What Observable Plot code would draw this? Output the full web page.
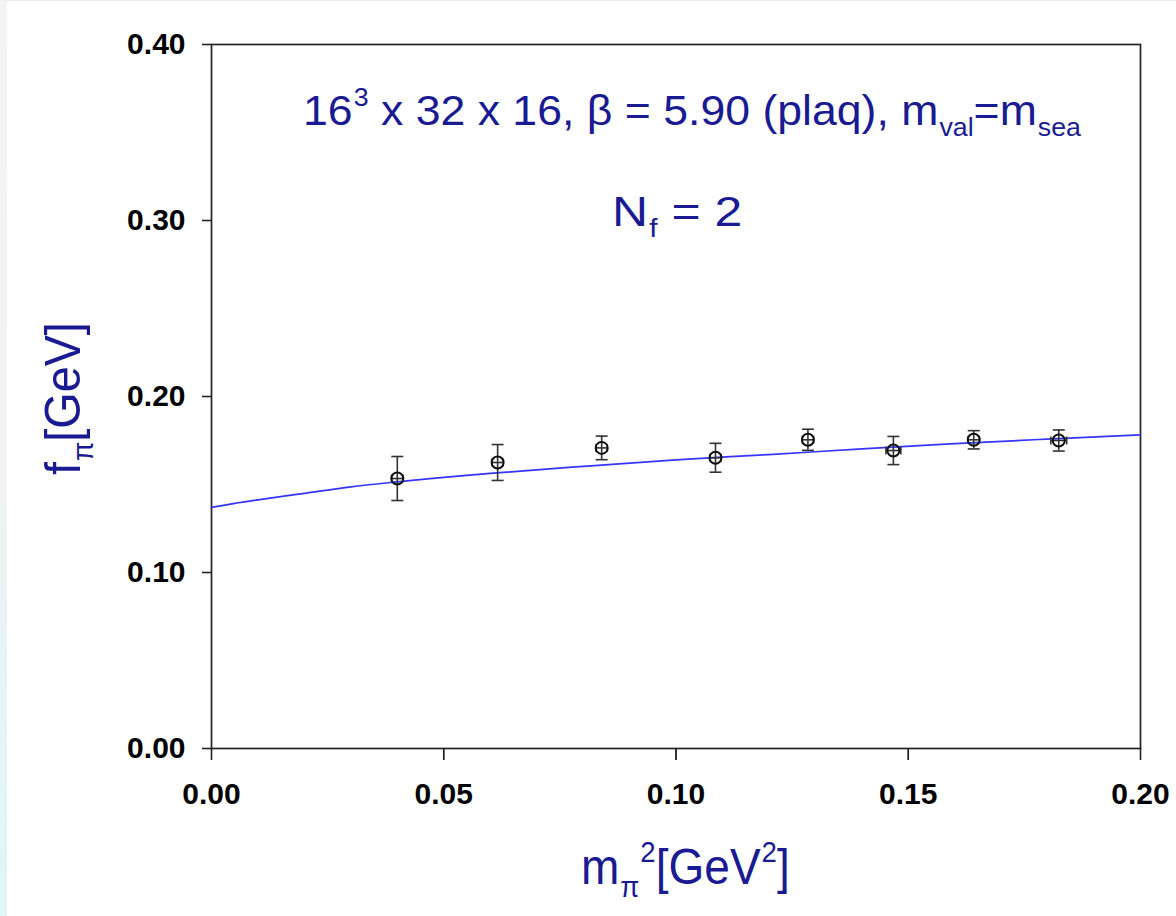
<!DOCTYPE html>
<html><head><meta charset="utf-8">
<script src="https://cdn.jsdelivr.net/npm/d3@7"></script>
<script src="https://cdn.jsdelivr.net/npm/@observablehq/plot@0.6"></script>
<style>
body{margin:0;background:#fff;}
#wrap{position:relative;width:1176px;height:916px;overflow:hidden;}
#strip{position:absolute;left:0;top:0;width:7px;height:916px;background:linear-gradient(#f4f4f4,#eef2f2 55%,#def7f7);}
#topline{position:absolute;left:0;top:0;width:1176px;height:1px;background:#eeeeee;}
#chart{position:absolute;left:0;top:0;}
</style></head><body><div id="wrap"><div id="strip"></div><div id="topline"></div><div id="chart"></div></div>
<script>
// measured data points: m_pi^2 [GeV^2], f_pi [GeV]
const mpi2    = [0.0400, 0.0616, 0.0840, 0.1085, 0.1284, 0.1468, 0.1641, 0.1824];
const fpi     = [0.1534, 0.1625, 0.1708, 0.1652, 0.1754, 0.1693, 0.1754, 0.1750];
const fpiErr  = [0.0125, 0.0102, 0.0067, 0.0082, 0.0060, 0.0080, 0.0052, 0.0060];
const mpi2Err = [0.0012, 0.0012, 0.0012, 0.0012, 0.0012, 0.0016, 0.0012, 0.0017];
// fit curve
const fitX = [0, 0.005, 0.01, 0.02, 0.03, 0.04, 0.06, 0.08, 0.10, 0.12, 0.14, 0.16, 0.18, 0.20];
const fitY = [0.1370, 0.1393, 0.1413, 0.1450, 0.1487, 0.1515, 0.1563, 0.1603, 0.1640, 0.1670, 0.1702, 0.1732, 0.1758, 0.1782];
const xTicks = [0, 0.05, 0.10, 0.15, 0.20];
const yTicks = [0, 0.10, 0.20, 0.30, 0.40];

const pts = mpi2.map((x, i) => ({x, y: fpi[i], ey: fpiErr[i], ex: mpi2Err[i]}));
const fit = fitX.map((x, i) => ({x, y: fitY[i]}));

const hcap = {draw(ctx, size){ const w = Math.sqrt(size / Math.PI); ctx.moveTo(-w, 0); ctx.lineTo(w, 0); }};
const vcap = {draw(ctx, size){ const w = Math.sqrt(size / Math.PI); ctx.moveTo(0, -w); ctx.lineTo(0, w); }};

const errColor = "#333";
const chart = Plot.plot({
  width: 1176, height: 916,
  marginLeft: 211, marginRight: 36, marginTop: 44, marginBottom: 168,
  style: {background: "transparent", fontFamily: "'Liberation Sans', Arial, sans-serif"},
  x: {domain: [0, 0.2]},
  y: {domain: [0, 0.4]},
  marks: [
    Plot.axisY(yTicks, {tickFormat: d3.format(".2f"), tickSize: 9, tickPadding: 17, fontSize: 30, fontWeight: "bold", fill: "#000", stroke: null, label: null}),
    Plot.axisY(yTicks, {text: null, tickSize: 9, stroke: "#222", strokeWidth: 1.6, label: null}),
    Plot.axisX(xTicks, {tickFormat: d3.format(".2f"), tickSize: 12, tickPadding: 22, fontSize: 30, fontWeight: "bold", fill: "#000", label: null}),
    Plot.axisX(xTicks, {text: null, tickSize: 12, stroke: "#222", strokeWidth: 1.6, label: null}),
    Plot.frame({stroke: "#222", strokeWidth: 1.7}),
    Plot.line(fit, {x: "x", y: "y", curve: "monotone-x", stroke: "#3535ff", strokeWidth: 1.7}),
    Plot.ruleX(pts, {x: "x", y1: d => d.y - d.ey, y2: d => d.y + d.ey, stroke: errColor, strokeWidth: 1.6}),
    Plot.dot(pts, {x: "x", y: d => d.y - d.ey, symbol: hcap, r: 6, stroke: errColor, strokeWidth: 1.6}),
    Plot.dot(pts, {x: "x", y: d => d.y + d.ey, symbol: hcap, r: 6, stroke: errColor, strokeWidth: 1.6}),
    Plot.ruleY(pts, {y: "y", x1: d => d.x - d.ex, x2: d => d.x + d.ex, stroke: errColor, strokeWidth: 1.6}),
    Plot.dot(pts, {x: d => d.x - d.ex, y: "y", symbol: vcap, r: 4, stroke: errColor, strokeWidth: 1.6}),
    Plot.dot(pts, {x: d => d.x + d.ex, y: "y", symbol: vcap, r: 4, stroke: errColor, strokeWidth: 1.6}),
    Plot.dot(pts, {x: "x", y: "y", r: 6, stroke: "#111", strokeWidth: 2, fill: "none"})
  ]
});
document.getElementById("chart").appendChild(chart);

// rich text annotations (super/subscripts), horizontally condensed to the reference width
const navy = "#1a1a92";
const svg = d3.select(chart);
function rich(parts, {x, y, size, length, rotate = 0}) {
  const g = svg.append("g");
  const t = g.append("text")
    .attr("x", 0).attr("y", 0)
    .attr("text-anchor", "start")
    .attr("fill", navy)
    .attr("font-family", "'Liberation Sans', Arial, sans-serif")
    .attr("font-size", size);
  let cur = 0;
  for (const p of parts) {
    const target = p.sup ? -0.45 * size : p.sub ? 0.26 * size : 0;
    const s = t.append("tspan").text(p.t).attr("dy", target - cur);
    if (p.sup || p.sub) s.attr("font-size", size * 0.6).attr("dx", 1);
    cur = target;
  }
  const natural = t.node().getComputedTextLength() || length;
  const sx = length / natural;
  g.attr("transform", `translate(${x},${y})` + (rotate ? ` rotate(${rotate})` : "") + ` scale(${sx},1)`);
  return g;
}
rich([{t: "16"}, {t: "3", sup: true}, {t: " x 32 x 16, \u03b2 = 5.90 (plaq), m"}, {t: "val", sub: true}, {t: "=m"}, {t: "sea", sub: true}],
  {x: 303, y: 125, size: 42, length: 775});
rich([{t: "N"}, {t: "f", sub: true}, {t: " = 2"}],
  {x: 612, y: 226, size: 42, length: 129});
rich([{t: "m"}, {t: "\u03c0", sub: true}, {t: "2", sup: true}, {t: "[GeV"}, {t: "2", sup: true}, {t: "]"}],
  {x: 581, y: 884, size: 50, length: 206});
rich([{t: "f"}, {t: "\u03c0", sub: true}, {t: "[GeV]"}],
  {x: 80, y: 475, size: 50, length: 152, rotate: -90});
</script>
</body></html>
